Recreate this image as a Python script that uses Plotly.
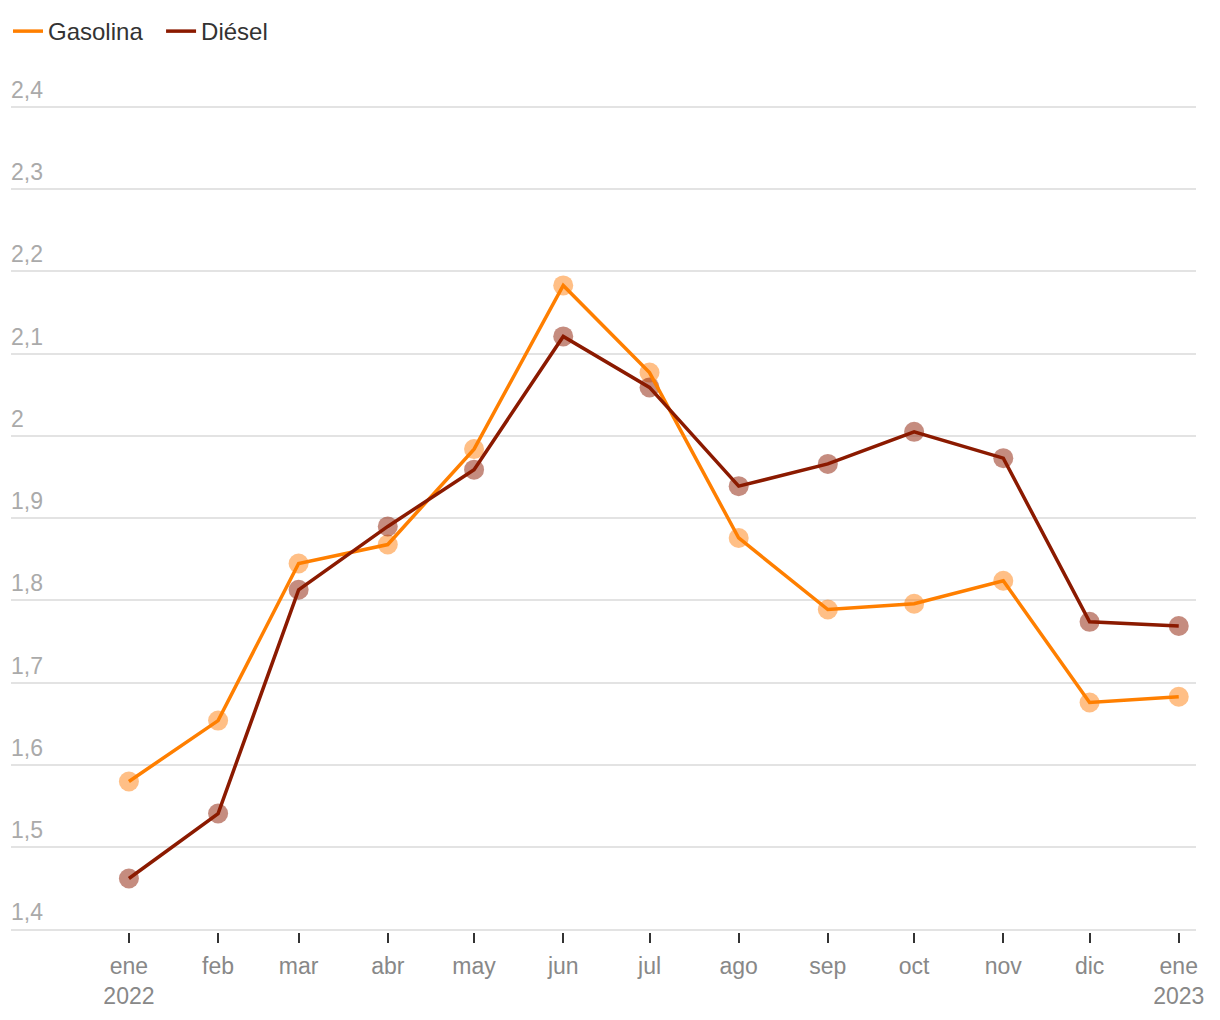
import plotly.graph_objects as go

months = ["2022-01-01", "2022-02-01", "2022-03-01", "2022-04-01", "2022-05-01", "2022-06-01",
          "2022-07-01", "2022-08-01", "2022-09-01", "2022-10-01", "2022-11-01", "2022-12-01",
          "2023-01-01"]
tick_labels = ["ene<br>2022", "feb", "mar", "abr", "may", "jun", "jul", "ago", "sep", "oct",
               "nov", "dic", "ene<br>2023"]
gasolina = [1.580, 1.654, 1.845, 1.868, 1.984, 2.183, 2.077, 1.876, 1.789, 1.796, 1.824, 1.676, 1.683]
diesel = [1.462, 1.541, 1.813, 1.890, 1.959, 2.121, 2.059, 1.939, 1.966, 2.005, 1.973, 1.774, 1.769]
y_ticks = [1.4, 1.5, 1.6, 1.7, 1.8, 1.9, 2.0, 2.1, 2.2, 2.3, 2.4]

FONT = "Liberation Sans, Arial, sans-serif"
series = [("Gasolina \u00a0", gasolina, "#ff7f00", "rgba(255,127,14,0.5)"),
          ("Diésel", diesel, "#8b1a00", "rgba(139,26,0,0.5)")]

fig = go.Figure()
# markers underneath
for name, vals, col, mcol in series:
    fig.add_trace(go.Scatter(
        x=months, y=vals, name=name, mode="markers", showlegend=False,
        marker=dict(color=mcol, size=20, line=dict(width=0)),
    ))
# lines on top (with legend)
for name, vals, col, mcol in series:
    fig.add_trace(go.Scatter(
        x=months, y=vals, name=name, mode="lines",
        line=dict(color=col, width=3.5),
    ))

fig.update_layout(
    width=1220, height=1020,
    margin=dict(l=3, r=32, t=66, b=95.5),
    paper_bgcolor="white", plot_bgcolor="white",
    separators=", ",
    font=dict(family=FONT, size=20, color="#888"),
    showlegend=True,
    legend=dict(orientation="h", x=-0.0063, y=0.999, yref="container", xanchor="left", yanchor="top",
                font=dict(size=24, color="#333"), itemwidth=30, traceorder="normal"),
    hovermode=False,
)
fig.update_xaxes(
    type="date", range=["2021-11-21", "2023-01-07"],
    tickvals=months, ticktext=tick_labels,
    ticks="outside", ticklen=10, tickwidth=2, tickcolor="#333",
    showgrid=False, showline=False, zeroline=False,
    tickfont=dict(size=23, color="#888"), ticklabelstandoff=3,
)
fig.update_yaxes(
    range=[1.397, 2.44], tickvals=y_ticks,
    ticklabelposition="inside top", tickfont=dict(size=23, color="#aaa"),
    ticklabelshift=-1, ticklabelstandoff=-3,
    showgrid=True, gridcolor="#e3e3e3", gridwidth=1.5,
    zeroline=False, showline=False, ticks="",
)
fig.write_html("out.html")
